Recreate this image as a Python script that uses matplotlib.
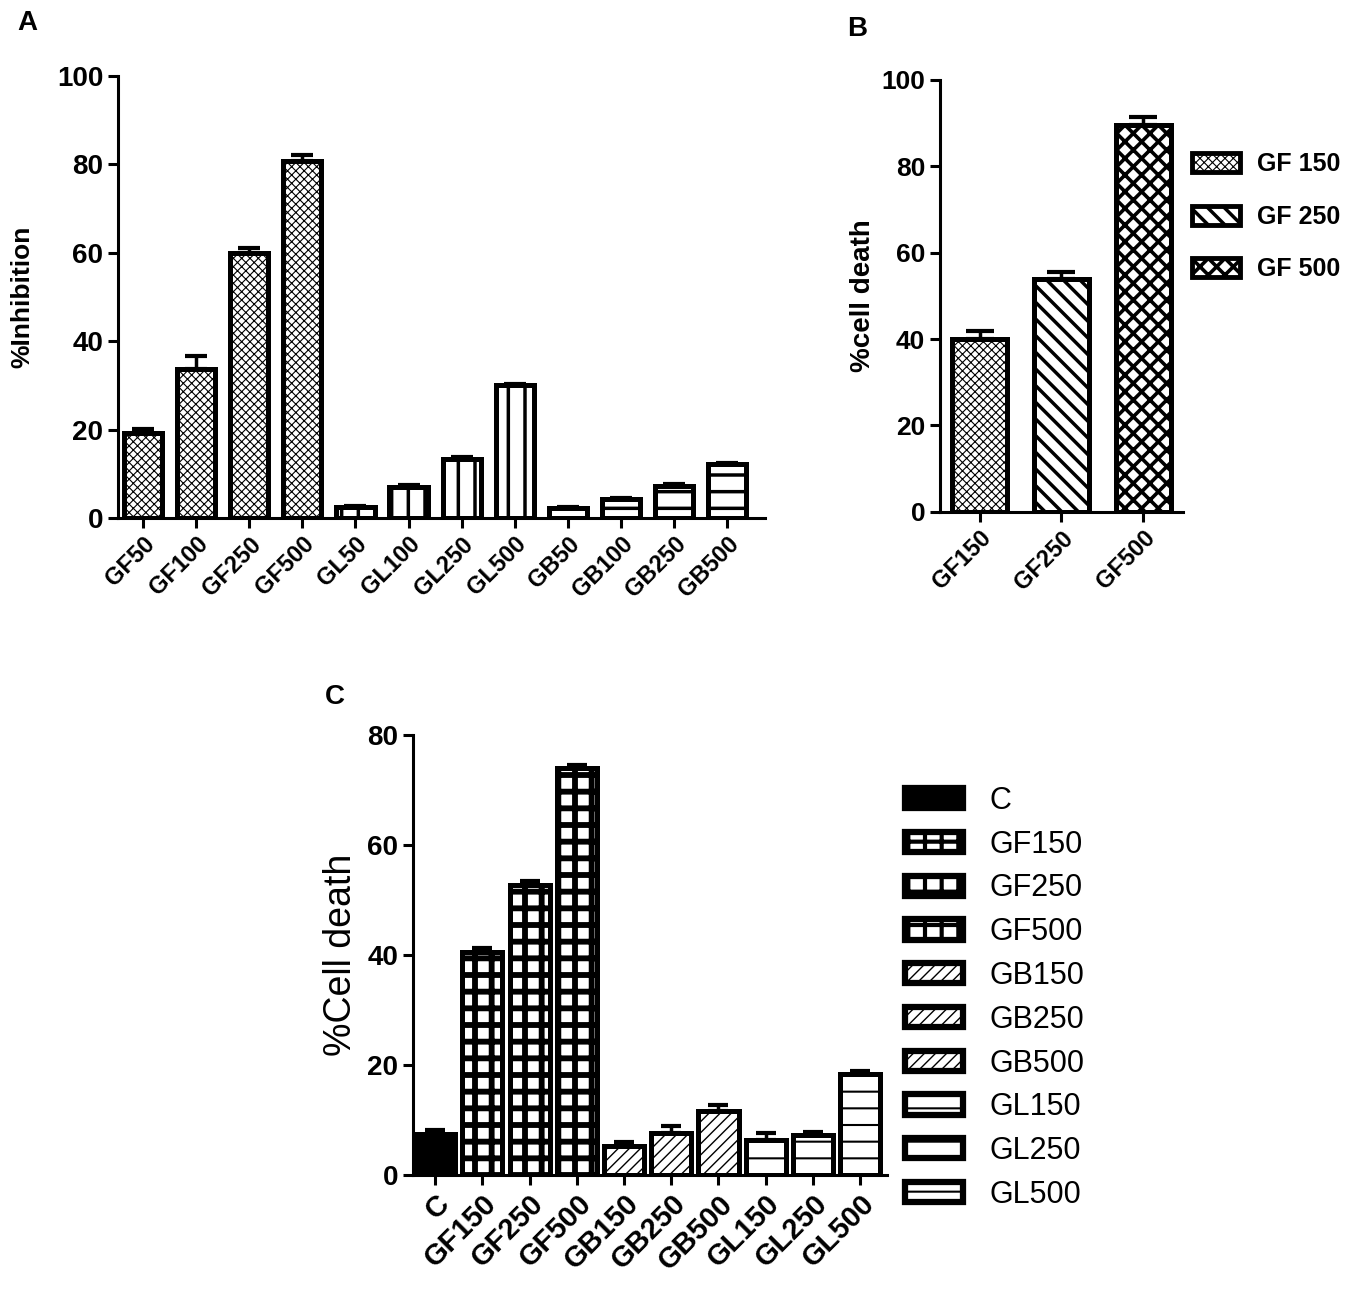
import numpy as np
import matplotlib
matplotlib.use('Agg')
import matplotlib.pyplot as plt
from matplotlib.patches import Patch

plt.rcParams['font.family'] = ['Liberation Sans', 'DejaVu Sans']

# Panel A data
a_labels = ['GF50', 'GF100', 'GF250', 'GF500', 'GL50', 'GL100', 'GL250', 'GL500',
            'GB50', 'GB100', 'GB250', 'GB500']
a_values = [19.3, 33.6, 60.0, 80.7, 2.4, 7.0, 13.3, 30.0, 2.3, 4.3, 7.2, 12.2]
a_errors = [0.8, 3.0, 1.0, 1.5, 0.2, 0.4, 0.5, 0.3, 0.2, 0.3, 0.4, 0.3]
a_hatches = ['xxxx'] * 4 + ['|'] * 4 + ['-'] * 4
a_hlws = [0.8] * 4 + [2.5] * 8

# Panel B data
b_labels = ['GF150', 'GF250', 'GF500']
b_legend = ['GF 150', 'GF 250', 'GF 500']
b_values = [40.0, 54.0, 89.4]
b_errors = [1.8, 1.4, 2.0]
b_hatches = ['xxxx', '\\\\', 'xx']
b_hlws = [0.8, 2.5, 2.6]

# Panel C data
c_labels = ['C', 'GF150', 'GF250', 'GF500', 'GB150', 'GB250', 'GB500',
            'GL150', 'GL250', 'GL500']
c_values = [7.4, 40.5, 52.8, 74.0, 5.2, 7.6, 11.7, 6.3, 7.2, 18.4]
c_errors = [0.8, 0.7, 0.6, 0.5, 0.8, 1.3, 1.0, 1.4, 0.6, 0.5]
c_hatches = ['', '+', '+', '+', '///', '///', '///', '-', '-', '-']
c_faces = ['black'] + ['white'] * 9
c_hlws = [1.0, 4.2, 4.2, 4.2, 1.0, 1.0, 1.0, 1.5, 1.5, 1.5]


def set_hlw(patch, lw):
    if hasattr(patch, 'set_hatch_linewidth'):
        patch.set_hatch_linewidth(lw)
    else:
        patch._hatch_linewidth = lw


def hatched_bars(ax, x, values, width, hatches, faces, hatch_lws, edge_lw=3.6):
    bars = []
    for xi, v, h, fc, hlw in zip(x, values, hatches, faces, hatch_lws):
        with plt.rc_context({'hatch.linewidth': hlw}):
            b = ax.bar(xi, v, width=width, facecolor=fc, edgecolor='black',
                       hatch=h, linewidth=edge_lw, zorder=2)
        set_hlw(b[0], hlw)
        bars.append(b[0])
    return bars


def style_axis(ax):
    for s in ['top', 'right']:
        ax.spines[s].set_visible(False)
    for s in ['left', 'bottom']:
        ax.spines[s].set_linewidth(2.2)
    ax.tick_params(width=2.2, length=7)


fig = plt.figure(figsize=(13.6, 13.06), dpi=100)

# ---------------- Panel A ----------------
axA = fig.add_axes([0.0868, 0.6034, 0.476, 0.3384])
xa = np.arange(len(a_labels))
hatched_bars(axA, xa, a_values, 0.72, a_hatches, ['white'] * 12, a_hlws)
axA.errorbar(xa, a_values, yerr=[np.zeros(len(a_values)), a_errors], fmt='none',
             ecolor='black', elinewidth=2.5, capsize=8, capthick=3, zorder=3)
axA.set_xlim(-0.47, 11.72)
axA.set_ylim(0, 100)
axA.set_yticks([0, 20, 40, 60, 80, 100])
axA.set_xticks(xa)
axA.set_xticklabels(a_labels, rotation=45, ha='right', rotation_mode='anchor',
                    fontsize=17, fontweight='bold')
axA.tick_params(axis='y', labelsize=20)
for t in axA.get_yticklabels():
    t.set_fontweight('bold')
axA.set_ylabel('%Inhibition', fontsize=19, fontweight='bold', labelpad=16)
style_axis(axA)

# ---------------- Panel B ----------------
axB = fig.add_axes([0.691, 0.608, 0.179, 0.331])
xb = np.arange(len(b_labels))
hatched_bars(axB, xb, b_values, 0.67, b_hatches, ['white'] * 3, b_hlws)
axB.errorbar(xb, b_values, yerr=[np.zeros(len(b_values)), b_errors], fmt='none',
             ecolor='black', elinewidth=2.5, capsize=10, capthick=3, zorder=3)
axB.set_xlim(-0.49, 2.49)
axB.set_ylim(0, 100)
axB.set_yticks([0, 20, 40, 60, 80, 100])
axB.set_xticks(xb)
axB.set_xticklabels(b_labels, rotation=45, ha='right', rotation_mode='anchor',
                    fontsize=17, fontweight='bold')
axB.tick_params(axis='y', labelsize=19)
for t in axB.get_yticklabels():
    t.set_fontweight('bold')
axB.set_ylabel('%cell death', fontsize=20, fontweight='bold', labelpad=4)
style_axis(axB)

b_handles = [Patch(facecolor='white', edgecolor='black', hatch=h, linewidth=3.5)
             for h in b_hatches]
legB = fig.legend(b_handles, b_legend, loc='upper left',
                  bbox_to_anchor=(1192 / 1360, 1 - 152 / 1306),
                  bbox_transform=fig.transFigure, borderaxespad=0, borderpad=0,
                  frameon=False, prop={'size': 18, 'weight': 'bold'},
                  handlelength=1.9, handleheight=0.8, labelspacing=1.15,
                  handletextpad=0.7)
for p, hlw in zip(legB.get_patches(), b_hlws):
    set_hlw(p, hlw)

# ---------------- Panel C ----------------
axC = fig.add_axes([0.3037, 0.1003, 0.3485, 0.337])
xc = np.arange(len(c_labels))
hatched_bars(axC, xc, c_values, 0.85, c_hatches, c_faces, c_hlws)
axC.errorbar(xc, c_values, yerr=[np.zeros(len(c_values)), c_errors], fmt='none',
             ecolor='black', elinewidth=2.5, capsize=7, capthick=3, zorder=3)
axC.set_xlim(-0.47, 9.57)
axC.set_ylim(0, 80)
axC.set_yticks([0, 20, 40, 60, 80])
axC.set_xticks(xc)
axC.set_xticklabels(c_labels, rotation=45, ha='right', rotation_mode='anchor',
                    fontsize=21, fontweight='bold')
axC.tick_params(axis='y', labelsize=20)
for t in axC.get_yticklabels():
    t.set_fontweight('bold')
axC.set_ylabel('%Cell death', fontsize=27, labelpad=6)
style_axis(axC)

c_handles = [Patch(facecolor=fc, edgecolor='black', hatch=h, linewidth=4.5)
             for h, fc in zip(c_hatches, c_faces)]
legC = fig.legend(c_handles, c_labels, loc='upper left',
                  bbox_to_anchor=(905 / 1360, 1 - 786 / 1306),
                  bbox_transform=fig.transFigure, borderaxespad=0, borderpad=0,
                  frameon=False, prop={'size': 22},
                  handlelength=1.9, handleheight=0.65, labelspacing=0.45,
                  handletextpad=0.85)
for p, hlw in zip(legC.get_patches(), c_hlws):
    set_hlw(p, min(hlw, 3.0))

# panel letters
fig.text(0.013, 0.992, 'A', fontsize=20, fontweight='bold', va='top')
fig.text(0.623, 0.988, 'B', fontsize=20, fontweight='bold', va='top')
fig.text(0.239, 0.476, 'C', fontsize=20, fontweight='bold', va='top')

fig.savefig('out.png', dpi=100)
